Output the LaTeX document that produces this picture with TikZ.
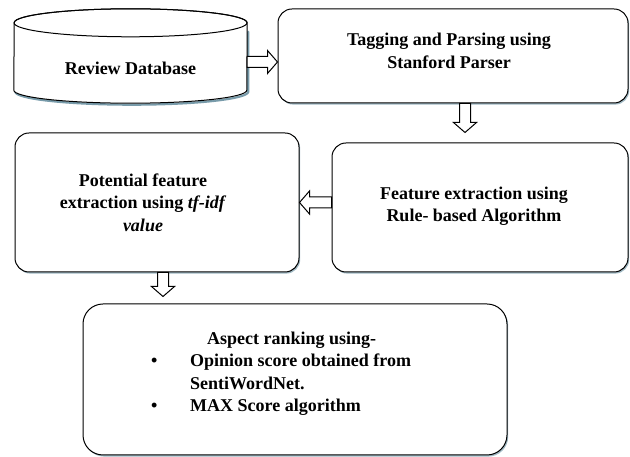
\documentclass[tikz,border=0pt]{standalone}
\usepackage{fontspec}
\setmainfont{Liberation Serif}
\usetikzlibrary{calc,shadows}
\definecolor{shadowc}{RGB}{120,155,170}
\tikzset{
    lab/.style={
        font=\fontsize{18}{22.5}\selectfont\bfseries
    }
}

\begin{document}
\begin{tikzpicture}[x=1pt,y=1pt, line cap=round, line join=round]

% box + block arrow styles
\tikzset{
  main/.style={draw=black, line width=1pt},
  box/.style={main, fill=white, rounded corners=14pt, inner sep=0pt,
    drop shadow={shadow xshift=1.2pt, shadow yshift=-1.6pt, fill=shadowc, opacity=0.7}},
  fat/.style={main, fill=white, line join=miter,
    to path={
      ($(\tikztostart)!5.5pt!90:(\tikztotarget)$)
      -- ($(\tikztotarget)!10pt!(\tikztostart)!5.5pt!-90:(\tikztostart)$)
      -- ($(\tikztotarget)!10pt!(\tikztostart)!11.5pt!-90:(\tikztostart)$)
      -- (\tikztotarget)
      -- ($(\tikztotarget)!10pt!(\tikztostart)!11.5pt!90:(\tikztostart)$)
      -- ($(\tikztotarget)!10pt!(\tikztostart)!5.5pt!90:(\tikztostart)$)
      -- ($(\tikztostart)!5.5pt!-90:(\tikztotarget)$)
      -- cycle}},
}

  \useasboundingbox (0,0) rectangle (630,457);

  % nodes
  \node[inner sep=0pt, minimum width=233pt, minimum height=94pt] (db) at (130.5,401) {};
  \node[box, minimum width=350pt, minimum height=94pt] (tag) at (453,401) {};
  \node[box, minimum width=284pt, minimum height=139pt] (pot) at (157,254.5) {};
  \node[box, minimum width=296pt, minimum height=129pt] (feat) at (480,249.5) {};
  \node[box, rounded corners=20pt, minimum width=424pt, minimum height=151pt] (asp) at (295,77.5) {};

  % database cylinder
  \draw[shadowc, line width=2.2pt] ($(db.south west)+(1.5,11.5)$)
    arc[start angle=180, end angle=360, x radius=116.5pt, y radius=13pt] -- ++(0,60);
  \draw[main, fill=white] ($(db.south west)+(0,13)$)
    arc[start angle=180, end angle=360, x radius=116.5pt, y radius=13pt]
    -- ($(db.north east)+(0,-14)$)
    arc[start angle=0, end angle=180, x radius=116.5pt, y radius=14pt] -- cycle;
  \draw[main] ($(db.north)+(0,-14)$) ellipse[x radius=116.5pt, y radius=14pt];

  % arrow ends
  \coordinate (a1s) at ([yshift=-6pt]db.east);
  \coordinate (a2s) at ([xshift=12pt]tag.south);
  \coordinate (a2e) at ([yshift=10pt]feat.north -| a2s);
  \coordinate (a4s) at ([xshift=6pt]pot.south);
  \coordinate (a4e) at ([yshift=7pt]asp.north -| a4s);

  % block arrows
  \draw[fat] (a1s) to (tag.west |- a1s);
  \draw[fat] (a2s) to (a2e);
  \draw[fat] (feat.west |- pot.east) to (pot.east);
  \draw[fat] (a4s) to (a4e);

  % labels
  \node[lab] (dbtxt) at ([yshift=-12pt]db.center) {Review Database};
  \node[lab, align=center] (tagtxt) at ([xshift=-4pt,yshift=5pt]tag.center)
    {Tagging and Parsing using\\Stanford Parser};
  \node[lab, align=center] (pottxt) at ([xshift=-14pt]pot.center)
    {Potential feature\\extraction using \textit{tf-idf}\\\textit{value}};
  \node[lab, align=center] (feattxt) at ([xshift=-6pt,yshift=1.5pt]feat.center)
    {Feature extraction using\\Rule- based Algorithm};
  \node[lab, anchor=north west, inner sep=0pt] (asptxt) at (151,128.75)
    {\begin{tabular}{@{}p{39pt}@{}l@{}}
      \multicolumn{2}{@{\hspace{56pt}}l@{}}{Aspect ranking using-}\\
      \textbullet & Opinion score obtained from\\
                  & SentiWordNet.\\
      \textbullet & MAX Score algorithm
    \end{tabular}};

\end{tikzpicture}
\end{document}
